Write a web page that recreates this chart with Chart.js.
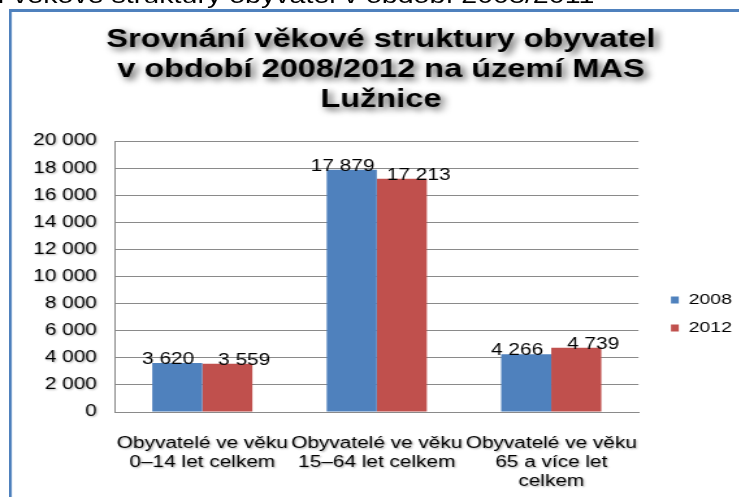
<!DOCTYPE html>
<html>
<head>
<meta charset="utf-8">
<script src="https://cdn.jsdelivr.net/npm/chart.js@4.4.1/dist/chart.umd.min.js"></script>
<style>
  html, body { margin: 0; padding: 0; background: #fff; overflow: hidden; }
  #stage { position: absolute; left: 0; top: 0; width: 568px; height: 497px; transform: scaleX(1.3); transform-origin: 0 0; }
  #cap { position: absolute; left: 10px; top: -17px; font: 22px Arial, "Liberation Sans", sans-serif; white-space: nowrap; color: #000; }
  #cap span { position: absolute; right: 100%; }
  #frame { position: absolute; left: 7px; top: 9px; width: 600px; height: 520px; border-top: 3px solid #4f81bd; border-left: 2.6px solid #4f81bd; pointer-events: none; }
  canvas { position: absolute; left: 0; top: 0; }
</style>
</head>
<body>
<div id="stage">
  <canvas id="myChart" width="568" height="497"></canvas>
  <div id="cap"><span>Srovnání&nbsp;</span>věkové struktury obyvatel v období 2008/2011</div>
  <div id="frame"></div>
</div>
<script>
const titleLines = ["Srovnání věkové struktury obyvatel", "v období 2008/2012 na území MAS", "Lužnice"];
const categories = [
    ["Obyvatelé ve věku", "0–14 let celkem"],
    ["Obyvatelé ve věku", "15–64 let celkem"],
    ["Obyvatelé ve věku", "65 a více let", "celkem"]
];
const seriesNames = ["2008", "2012"];
const values2008 = [3620, 17879, 4266];
const values2012 = [3559, 17213, 4739];
const yMin = 0;
const yMax = 20000;
const yStep = 2000;

const fmt = (v) => String(v).replace(/\B(?=(\d{3})+(?!\d))/g, ' ');
const FONT = 'Arial, "Liberation Sans", sans-serif';

// shadows on title and axis labels, like the original picture
const textShadow = {
    id: 'textShadow',
    afterUpdate(chart) {
        const wrap = (obj, fn, sh) => {
            if (!obj || obj['_sh_' + fn]) return;
            const orig = obj[fn];
            obj[fn] = function(...a) {
                const c = chart.ctx;
                c.save();
                Object.assign(c, sh);
                orig.apply(this, a);
                c.restore();
            };
            obj['_sh_' + fn] = true;
        };
        wrap(chart.titleBlock, 'draw', {shadowColor: 'rgba(0,0,0,0.7)', shadowBlur: 6, shadowOffsetX: 3, shadowOffsetY: 3});
        wrap(chart.scales.x, 'drawLabels', {shadowColor: 'rgba(0,0,0,0.35)', shadowBlur: 2, shadowOffsetX: 1, shadowOffsetY: 1});
        wrap(chart.scales.y, 'drawLabels', {shadowColor: 'rgba(0,0,0,0.3)', shadowBlur: 2, shadowOffsetX: 1, shadowOffsetY: 1});
    }
};

// move the legend box a bit (right and down) after layout
const legendShift = { x: 12, y: 67 };
const moveLegend = {
    id: 'moveLegend',
    afterLayout(chart) {
        const lg = chart.legend;
        if (!lg) return;
        lg.left += legendShift.x; lg.right += legendShift.x;
        lg.top += legendShift.y; lg.bottom += legendShift.y;
    }
};

// value labels above the bars
const labelShift = [-7, 13];
const valueLabels = {
    id: 'valueLabels',
    afterDatasetsDraw(chart) {
        const c = chart.ctx;
        c.save();
        c.font = '16px ' + FONT;
        c.fillStyle = '#000';
        c.textAlign = 'center';
        c.textBaseline = 'alphabetic';
        chart.data.datasets.forEach((ds, i) => {
            chart.getDatasetMeta(i).data.forEach((bar, j) => {
                c.fillText(fmt(ds.data[j]), bar.x + labelShift[i], bar.y + 1);
            });
        });
        c.restore();
    }
};

const ctx = document.getElementById("myChart").getContext('2d');
const myChart = new Chart(ctx, {
    type: 'bar',
    data: {
        labels: categories,
        datasets: [{
            label: seriesNames[0],
            data: values2008,
            backgroundColor: '#4f81bd',
            borderWidth: 0
        }, {
            label: seriesNames[1],
            data: values2012,
            backgroundColor: '#c0504d',
            borderWidth: 0
        }]
    },
    options: {
        responsive: false,
        animation: false,
        layout: { padding: { left: 25, right: 7, top: 0, bottom: 3 } },
        datasets: { bar: { categoryPercentage: 0.574, barPercentage: 1 } },
        plugins: {
            title: {
                display: true,
                text: titleLines,
                color: '#000',
                font: { family: FONT, size: 25, weight: 'bold', lineHeight: 1.2 },
                padding: { top: 25, bottom: 26 }
            },
            legend: {
                position: 'right',
                labels: {
                    boxWidth: 6,
                    boxHeight: 7,
                    padding: 13,
                    color: '#000',
                    font: { family: FONT, size: 15 }
                }
            },
            tooltip: { enabled: false }
        },
        scales: {
            x: {
                afterFit(scale) { scale.height = 82; },
                grid: { display: false, drawTicks: false },
                border: { color: '#8a8a8a' },
                ticks: {
                    color: '#000',
                    font: { family: FONT, size: 16, lineHeight: 1.2 },
                    padding: 22,
                    maxRotation: 0,
                    autoSkip: false
                }
            },
            y: {
                min: yMin,
                max: yMax,
                afterFit(scale) { scale.width = 63.5; },
                grid: { color: '#8a8a8a', drawTicks: false },
                border: { color: '#8a8a8a' },
                ticks: {
                    stepSize: yStep,
                    color: '#000',
                    padding: 14,
                    font: { family: FONT, size: 16 },
                    callback: (v) => fmt(v)
                }
            }
        }
    },
    plugins: [textShadow, moveLegend, valueLabels]
});
</script>
</body>
</html>
